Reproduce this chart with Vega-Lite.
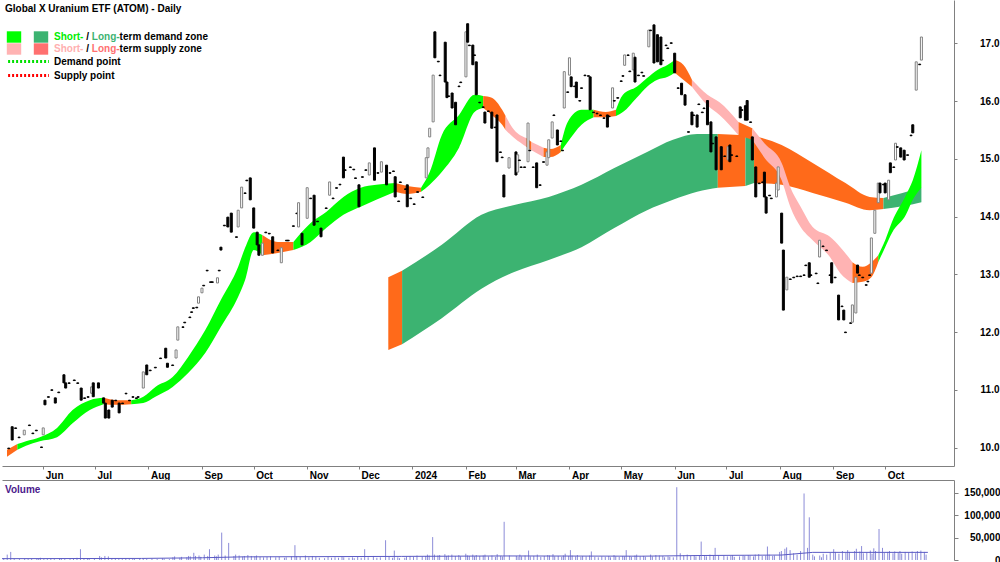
{
"$schema": "https://vega.github.io/schema/vega-lite/v6.json",
"padding": 0,
"spacing": 0,
"background": "white",
"resolve": {"scale": {"y": "independent"}, "axis": {"y": "independent"}},
"config": {
 "view": {"stroke": null},
 "font": "Liberation Sans",
 "axis": {"labelFont": "Liberation Sans", "labelFontWeight": "bold", "labelFontSize": 10, "labelColor": "#000000", "domainColor": "#808080", "tickColor": "#808080", "grid": false, "title": null},
 "legend": {"labelFont": "Liberation Sans", "labelFontWeight": "bold", "labelFontSize": 10, "labelColor": "#000000", "padding": 0, "rowPadding": 0, "labelLimit": 300, "direction": "vertical"}
},
"datasets": {
"c": [
{"d":"2023-05-12","o":9.99,"c":9.98,"v":4000},
{"d":"2023-05-14","o":10.36,"c":10.13,"v":12000},
{"d":"2023-05-16","o":10.34,"c":10.33,"v":18000},
{"d":"2023-05-18","o":10.18,"c":10.17,"v":3000},
{"d":"2023-05-21","o":10.22,"c":10.30,"v":2000},
{"d":"2023-05-24","o":10.39,"c":10.38,"v":3000},
{"d":"2023-05-26","o":10.25,"c":10.24,"v":2000},
{"d":"2023-05-28","o":10.30,"c":10.29,"v":2500},
{"d":"2023-05-31","o":10.01,"c":10.00,"v":3000},
{"d":"2023-06-01","o":10.22,"c":10.34,"v":2000},
{"d":"2023-06-02","o":10.82,"c":10.74,"v":5000},
{"d":"2023-06-04","o":10.88,"c":10.87,"v":2000},
{"d":"2023-06-06","o":11.00,"c":10.99,"v":2000},
{"d":"2023-06-08","o":10.86,"c":10.77,"v":3000},
{"d":"2023-06-10","o":10.96,"c":10.95,"v":2000},
{"d":"2023-06-13","o":11.26,"c":11.12,"v":4000},
{"d":"2023-06-14","o":11.12,"c":11.03,"v":3000},
{"d":"2023-06-16","o":11.12,"c":11.11,"v":2000},
{"d":"2023-06-19","o":11.17,"c":11.16,"v":2000},
{"d":"2023-06-21","o":11.12,"c":11.11,"v":3000},
{"d":"2023-06-23","o":11.03,"c":10.82,"v":5000},
{"d":"2023-06-25","o":10.86,"c":10.85,"v":24000},
{"d":"2023-06-27","o":10.88,"c":10.87,"v":3000},
{"d":"2023-06-29","o":10.94,"c":11.05,"v":2000},
{"d":"2023-06-30","o":11.12,"c":10.88,"v":4000},
{"d":"2023-07-03","o":11.12,"c":11.03,"v":3000},
{"d":"2023-07-06","o":10.86,"c":10.77,"v":9000},
{"d":"2023-07-07","o":10.77,"c":10.51,"v":6000},
{"d":"2023-07-09","o":10.65,"c":10.51,"v":9000},
{"d":"2023-07-11","o":10.82,"c":10.70,"v":8000},
{"d":"2023-07-13","o":10.82,"c":10.81,"v":3000},
{"d":"2023-07-15","o":10.77,"c":10.60,"v":4000},
{"d":"2023-07-17","o":10.77,"c":10.76,"v":2000},
{"d":"2023-07-19","o":10.94,"c":10.93,"v":2000},
{"d":"2023-07-21","o":10.82,"c":10.81,"v":3000},
{"d":"2023-07-23","o":10.88,"c":10.87,"v":2000},
{"d":"2023-07-25","o":10.86,"c":10.85,"v":3000},
{"d":"2023-07-26","o":10.88,"c":10.87,"v":2000},
{"d":"2023-07-29","o":11.03,"c":11.31,"v":4000},
{"d":"2023-07-31","o":11.43,"c":11.26,"v":3000},
{"d":"2023-08-02","o":11.34,"c":11.33,"v":2000},
{"d":"2023-08-05","o":11.39,"c":11.38,"v":3000},
{"d":"2023-08-08","o":11.55,"c":11.54,"v":2000},
{"d":"2023-08-11","o":11.72,"c":11.55,"v":4000},
{"d":"2023-08-12","o":11.46,"c":11.39,"v":3000},
{"d":"2023-08-15","o":11.43,"c":11.42,"v":2000},
{"d":"2023-08-17","o":11.55,"c":11.69,"v":6000},
{"d":"2023-08-18","o":11.86,"c":12.09,"v":8000},
{"d":"2023-08-21","o":12.09,"c":12.08,"v":5000},
{"d":"2023-08-22","o":12.17,"c":12.16,"v":7000},
{"d":"2023-08-25","o":12.26,"c":12.25,"v":6000},
{"d":"2023-08-26","o":12.35,"c":12.34,"v":9000},
{"d":"2023-08-27","o":12.42,"c":12.41,"v":8000},
{"d":"2023-08-29","o":12.43,"c":12.42,"v":16000},
{"d":"2023-08-30","o":12.50,"c":12.61,"v":9000},
{"d":"2023-09-01","o":12.68,"c":12.76,"v":10000},
{"d":"2023-09-02","o":12.81,"c":12.80,"v":7000},
{"d":"2023-09-04","o":13.07,"c":13.06,"v":12000},
{"d":"2023-09-06","o":12.87,"c":12.86,"v":9000},
{"d":"2023-09-07","o":12.87,"c":12.86,"v":24000},
{"d":"2023-09-10","o":12.85,"c":12.94,"v":10000},
{"d":"2023-09-11","o":13.07,"c":13.06,"v":8000},
{"d":"2023-09-12","o":13.47,"c":13.42,"v":12000},
{"d":"2023-09-14","o":13.85,"c":13.84,"v":61000},
{"d":"2023-09-16","o":13.99,"c":13.82,"v":10000},
{"d":"2023-09-18","o":14.06,"c":13.73,"v":38000},
{"d":"2023-09-21","o":13.65,"c":13.64,"v":9000},
{"d":"2023-09-22","o":13.82,"c":14.11,"v":12000},
{"d":"2023-09-24","o":14.15,"c":14.51,"v":10000},
{"d":"2023-09-26","o":14.41,"c":14.40,"v":8000},
{"d":"2023-09-27","o":14.63,"c":14.62,"v":9000},
{"d":"2023-09-29","o":14.67,"c":14.29,"v":11000},
{"d":"2023-10-01","o":14.15,"c":13.80,"v":9000},
{"d":"2023-10-03","o":13.73,"c":13.51,"v":8000},
{"d":"2023-10-04","o":13.51,"c":13.33,"v":10000},
{"d":"2023-10-06","o":13.33,"c":13.54,"v":7000},
{"d":"2023-10-08","o":13.73,"c":13.72,"v":6000},
{"d":"2023-10-10","o":13.71,"c":13.70,"v":7000},
{"d":"2023-10-12","o":13.65,"c":13.37,"v":8000},
{"d":"2023-10-15","o":13.42,"c":13.41,"v":6000},
{"d":"2023-10-17","o":13.20,"c":13.46,"v":7000},
{"d":"2023-10-20","o":13.59,"c":13.58,"v":5000},
{"d":"2023-10-21","o":13.59,"c":13.58,"v":6000},
{"d":"2023-10-24","o":13.84,"c":13.83,"v":8000},
{"d":"2023-10-26","o":14.06,"c":14.05,"v":33000},
{"d":"2023-10-27","o":13.82,"c":14.24,"v":9000},
{"d":"2023-10-29","o":13.71,"c":13.51,"v":7000},
{"d":"2023-11-01","o":13.97,"c":14.50,"v":10000},
{"d":"2023-11-03","o":14.32,"c":14.31,"v":6000},
{"d":"2023-11-05","o":14.37,"c":13.85,"v":9000},
{"d":"2023-11-07","o":13.92,"c":13.91,"v":7000},
{"d":"2023-11-09","o":13.80,"c":13.65,"v":5000},
{"d":"2023-11-12","o":14.15,"c":14.14,"v":4000},
{"d":"2023-11-14","o":14.37,"c":14.60,"v":7000},
{"d":"2023-11-16","o":14.32,"c":14.31,"v":5000},
{"d":"2023-11-18","o":14.50,"c":14.49,"v":6000},
{"d":"2023-11-20","o":14.56,"c":14.55,"v":5000},
{"d":"2023-11-22","o":15.03,"c":14.67,"v":8000},
{"d":"2023-11-23","o":14.81,"c":14.80,"v":6000},
{"d":"2023-11-26","o":14.86,"c":14.85,"v":5000},
{"d":"2023-11-28","o":14.82,"c":14.81,"v":6000},
{"d":"2023-11-29","o":14.67,"c":14.66,"v":4000},
{"d":"2023-12-01","o":14.55,"c":14.17,"v":7000},
{"d":"2023-12-03","o":14.69,"c":14.68,"v":5000},
{"d":"2023-12-05","o":14.81,"c":14.80,"v":24000},
{"d":"2023-12-07","o":14.72,"c":14.93,"v":6000},
{"d":"2023-12-10","o":15.19,"c":14.63,"v":9000},
{"d":"2023-12-12","o":14.76,"c":14.75,"v":5000},
{"d":"2023-12-14","o":14.77,"c":14.95,"v":6000},
{"d":"2023-12-17","o":14.89,"c":14.55,"v":44000},
{"d":"2023-12-19","o":14.76,"c":14.75,"v":7000},
{"d":"2023-12-21","o":14.79,"c":14.78,"v":5000},
{"d":"2023-12-22","o":14.69,"c":14.34,"v":21000},
{"d":"2023-12-24","o":14.27,"c":14.26,"v":6000},
{"d":"2023-12-25","o":14.60,"c":14.59,"v":4000},
{"d":"2023-12-28","o":14.48,"c":14.47,"v":5000},
{"d":"2023-12-29","o":14.55,"c":14.17,"v":8000},
{"d":"2023-12-31","o":14.32,"c":14.31,"v":9000},
{"d":"2024-01-02","o":14.22,"c":14.21,"v":7000},
{"d":"2024-01-04","o":14.43,"c":14.42,"v":10000},
{"d":"2024-01-07","o":14.34,"c":14.33,"v":8000},
{"d":"2024-01-09","o":14.67,"c":15.02,"v":9000},
{"d":"2024-01-10","o":15.02,"c":15.19,"v":12000},
{"d":"2024-01-11","o":15.38,"c":15.53,"v":10000},
{"d":"2024-01-13","o":15.64,"c":16.45,"v":51000},
{"d":"2024-01-14","o":17.20,"c":16.75,"v":12000},
{"d":"2024-01-16","o":16.69,"c":16.68,"v":10000},
{"d":"2024-01-17","o":16.45,"c":16.44,"v":11000},
{"d":"2024-01-20","o":17.02,"c":16.33,"v":13000},
{"d":"2024-01-21","o":16.33,"c":16.06,"v":9000},
{"d":"2024-01-22","o":16.09,"c":16.08,"v":10000},
{"d":"2024-01-24","o":16.14,"c":15.88,"v":12000},
{"d":"2024-01-26","o":15.98,"c":15.59,"v":9000},
{"d":"2024-01-28","o":16.26,"c":16.25,"v":11000},
{"d":"2024-01-29","o":16.33,"c":16.32,"v":8000},
{"d":"2024-02-01","o":16.42,"c":17.20,"v":14000},
{"d":"2024-02-02","o":17.34,"c":17.02,"v":10000},
{"d":"2024-02-03","o":16.97,"c":16.96,"v":9000},
{"d":"2024-02-05","o":16.97,"c":16.63,"v":12000},
{"d":"2024-02-06","o":16.80,"c":16.79,"v":8000},
{"d":"2024-02-07","o":16.68,"c":16.11,"v":11000},
{"d":"2024-02-09","o":15.98,"c":15.97,"v":9000},
{"d":"2024-02-11","o":15.90,"c":15.89,"v":10000},
{"d":"2024-02-12","o":15.81,"c":15.62,"v":12000},
{"d":"2024-02-14","o":15.83,"c":15.82,"v":8000},
{"d":"2024-02-16","o":15.81,"c":15.53,"v":10000},
{"d":"2024-02-18","o":15.55,"c":15.54,"v":7000},
{"d":"2024-02-19","o":15.76,"c":14.95,"v":13000},
{"d":"2024-02-21","o":15.12,"c":15.11,"v":9000},
{"d":"2024-02-22","o":15.03,"c":15.02,"v":8000},
{"d":"2024-02-23","o":14.72,"c":14.34,"v":85000},
{"d":"2024-02-26","o":14.84,"c":15.02,"v":10000},
{"d":"2024-03-01","o":15.12,"c":14.72,"v":9000},
{"d":"2024-03-02","o":14.77,"c":15.07,"v":7000},
{"d":"2024-03-03","o":14.98,"c":14.97,"v":12000},
{"d":"2024-03-04","o":14.86,"c":14.85,"v":8000},
{"d":"2024-03-06","o":14.86,"c":14.85,"v":10000},
{"d":"2024-03-08","o":14.95,"c":15.62,"v":21000},
{"d":"2024-03-09","o":15.15,"c":15.14,"v":8000},
{"d":"2024-03-11","o":14.86,"c":14.85,"v":9000},
{"d":"2024-03-13","o":14.93,"c":14.50,"v":12000},
{"d":"2024-03-15","o":14.55,"c":14.54,"v":7000},
{"d":"2024-03-17","o":14.95,"c":14.94,"v":9000},
{"d":"2024-03-19","o":14.89,"c":15.12,"v":11000},
{"d":"2024-03-20","o":15.02,"c":15.33,"v":10000},
{"d":"2024-03-22","o":15.36,"c":15.64,"v":13000},
{"d":"2024-03-23","o":15.76,"c":15.75,"v":8000},
{"d":"2024-03-25","o":15.50,"c":15.24,"v":9000},
{"d":"2024-03-27","o":15.31,"c":15.30,"v":7000},
{"d":"2024-03-28","o":15.15,"c":15.14,"v":10000},
{"d":"2024-03-29","o":15.88,"c":16.51,"v":14000},
{"d":"2024-03-31","o":16.16,"c":16.15,"v":9000},
{"d":"2024-04-01","o":16.45,"c":16.75,"v":22000},
{"d":"2024-04-02","o":16.42,"c":16.25,"v":10000},
{"d":"2024-04-04","o":16.26,"c":16.25,"v":8000},
{"d":"2024-04-05","o":16.33,"c":16.06,"v":11000},
{"d":"2024-04-07","o":16.01,"c":16.00,"v":7000},
{"d":"2024-04-08","o":16.23,"c":16.22,"v":9000},
{"d":"2024-04-10","o":16.45,"c":16.44,"v":8000},
{"d":"2024-04-12","o":16.44,"c":16.43,"v":10000},
{"d":"2024-04-13","o":16.42,"c":15.85,"v":19000},
{"d":"2024-04-15","o":15.81,"c":15.80,"v":7000},
{"d":"2024-04-17","o":15.79,"c":15.78,"v":6000},
{"d":"2024-04-19","o":15.76,"c":15.75,"v":8000},
{"d":"2024-04-21","o":15.71,"c":15.70,"v":7000},
{"d":"2024-04-23","o":15.76,"c":15.55,"v":9000},
{"d":"2024-04-24","o":15.74,"c":15.73,"v":6000},
{"d":"2024-04-26","o":15.88,"c":16.23,"v":11000},
{"d":"2024-04-27","o":16.01,"c":16.00,"v":8000},
{"d":"2024-04-29","o":16.06,"c":16.05,"v":7000},
{"d":"2024-05-01","o":16.35,"c":16.34,"v":9000},
{"d":"2024-05-02","o":16.44,"c":16.43,"v":8000},
{"d":"2024-05-03","o":16.62,"c":16.80,"v":22000},
{"d":"2024-05-05","o":16.80,"c":16.79,"v":9000},
{"d":"2024-05-06","o":16.52,"c":16.51,"v":7000},
{"d":"2024-05-08","o":16.54,"c":16.83,"v":10000},
{"d":"2024-05-09","o":16.76,"c":16.33,"v":12000},
{"d":"2024-05-11","o":16.45,"c":16.44,"v":8000},
{"d":"2024-05-13","o":16.50,"c":16.49,"v":9000},
{"d":"2024-05-14","o":16.44,"c":16.43,"v":7000},
{"d":"2024-05-17","o":16.94,"c":17.23,"v":12000},
{"d":"2024-05-18","o":17.23,"c":17.22,"v":8000},
{"d":"2024-05-20","o":17.32,"c":16.66,"v":11000},
{"d":"2024-05-22","o":17.15,"c":16.68,"v":10000},
{"d":"2024-05-24","o":17.11,"c":16.63,"v":9000},
{"d":"2024-05-25","o":16.71,"c":16.70,"v":6000},
{"d":"2024-05-27","o":16.97,"c":16.96,"v":8000},
{"d":"2024-05-28","o":16.92,"c":16.91,"v":7000},
{"d":"2024-05-30","o":17.01,"c":17.00,"v":6000},
{"d":"2024-06-01","o":16.83,"c":16.49,"v":162000},
{"d":"2024-06-03","o":16.23,"c":16.22,"v":15000},
{"d":"2024-06-05","o":16.31,"c":16.11,"v":10000},
{"d":"2024-06-07","o":16.11,"c":15.93,"v":12000},
{"d":"2024-06-09","o":15.47,"c":15.46,"v":9000},
{"d":"2024-06-11","o":15.81,"c":15.59,"v":11000},
{"d":"2024-06-12","o":15.76,"c":15.75,"v":8000},
{"d":"2024-06-14","o":15.76,"c":15.55,"v":10000},
{"d":"2024-06-15","o":15.95,"c":15.94,"v":41000},
{"d":"2024-06-17","o":15.81,"c":15.80,"v":9000},
{"d":"2024-06-18","o":15.88,"c":15.87,"v":8000},
{"d":"2024-06-20","o":16.01,"c":15.59,"v":12000},
{"d":"2024-06-22","o":15.64,"c":15.12,"v":10000},
{"d":"2024-06-23","o":15.27,"c":15.26,"v":27000},
{"d":"2024-06-25","o":15.38,"c":14.81,"v":11000},
{"d":"2024-06-28","o":15.21,"c":14.81,"v":10000},
{"d":"2024-06-30","o":15.05,"c":15.04,"v":8000},
{"d":"2024-07-02","o":14.98,"c":15.21,"v":9000},
{"d":"2024-07-03","o":15.24,"c":14.95,"v":11000},
{"d":"2024-07-04","o":15.07,"c":15.06,"v":7000},
{"d":"2024-07-07","o":15.05,"c":15.04,"v":8000},
{"d":"2024-07-09","o":15.90,"c":15.71,"v":10000},
{"d":"2024-07-10","o":15.85,"c":15.84,"v":9000},
{"d":"2024-07-12","o":15.92,"c":15.67,"v":11000},
{"d":"2024-07-13","o":16.01,"c":15.67,"v":10000},
{"d":"2024-07-15","o":15.64,"c":15.63,"v":8000},
{"d":"2024-07-16","o":15.38,"c":14.98,"v":12000},
{"d":"2024-07-18","o":14.86,"c":14.34,"v":13000},
{"d":"2024-07-20","o":14.58,"c":14.57,"v":9000},
{"d":"2024-07-22","o":14.60,"c":14.59,"v":10000},
{"d":"2024-07-23","o":14.77,"c":14.34,"v":30000},
{"d":"2024-07-24","o":14.34,"c":14.06,"v":12000},
{"d":"2024-07-26","o":14.37,"c":14.36,"v":9000},
{"d":"2024-07-27","o":14.32,"c":14.31,"v":10000},
{"d":"2024-07-30","o":14.34,"c":14.58,"v":18000},
{"d":"2024-07-31","o":14.46,"c":14.86,"v":20000},
{"d":"2024-08-02","o":14.06,"c":13.54,"v":25000},
{"d":"2024-08-03","o":13.42,"c":12.38,"v":28000},
{"d":"2024-08-05","o":12.73,"c":12.95,"v":22000},
{"d":"2024-08-07","o":12.92,"c":12.91,"v":15000},
{"d":"2024-08-09","o":12.95,"c":12.94,"v":12000},
{"d":"2024-08-11","o":12.97,"c":12.96,"v":20000},
{"d":"2024-08-13","o":12.97,"c":12.96,"v":148000},
{"d":"2024-08-15","o":12.99,"c":12.98,"v":27000},
{"d":"2024-08-16","o":13.16,"c":13.15,"v":95000},
{"d":"2024-08-18","o":13.20,"c":12.95,"v":12000},
{"d":"2024-08-19","o":12.99,"c":12.98,"v":8000},
{"d":"2024-08-22","o":13.02,"c":13.01,"v":10000},
{"d":"2024-08-23","o":12.85,"c":12.84,"v":6000},
{"d":"2024-08-24","o":13.30,"c":13.59,"v":14000},
{"d":"2024-08-26","o":13.49,"c":13.48,"v":12000},
{"d":"2024-08-28","o":13.42,"c":13.41,"v":16000},
{"d":"2024-08-30","o":12.99,"c":12.98,"v":24000},
{"d":"2024-08-31","o":13.20,"c":12.85,"v":18000},
{"d":"2024-09-02","o":12.95,"c":12.94,"v":14000},
{"d":"2024-09-04","o":12.64,"c":12.21,"v":20000},
{"d":"2024-09-06","o":12.45,"c":12.44,"v":16000},
{"d":"2024-09-07","o":12.38,"c":12.21,"v":22000},
{"d":"2024-09-08","o":12.00,"c":11.99,"v":18000},
{"d":"2024-09-11","o":12.16,"c":12.15,"v":20000},
{"d":"2024-09-12","o":12.17,"c":12.47,"v":25000},
{"d":"2024-09-14","o":12.33,"c":12.95,"v":19000},
{"d":"2024-09-15","o":13.16,"c":13.02,"v":31000},
{"d":"2024-09-16","o":12.99,"c":12.98,"v":15000},
{"d":"2024-09-18","o":12.95,"c":12.94,"v":17000},
{"d":"2024-09-20","o":12.82,"c":12.81,"v":21000},
{"d":"2024-09-21","o":12.88,"c":12.87,"v":14000},
{"d":"2024-09-22","o":12.99,"c":12.98,"v":26000},
{"d":"2024-09-23","o":13.02,"c":13.63,"v":20000},
{"d":"2024-09-25","o":13.71,"c":14.11,"v":69000},
{"d":"2024-09-27","o":14.24,"c":14.58,"v":27000},
{"d":"2024-09-28","o":14.58,"c":14.41,"v":16000},
{"d":"2024-09-30","o":14.56,"c":14.55,"v":18000},
{"d":"2024-10-01","o":14.58,"c":14.41,"v":20000},
{"d":"2024-10-03","o":14.29,"c":14.63,"v":15000},
{"d":"2024-10-04","o":14.93,"c":14.76,"v":19000},
{"d":"2024-10-06","o":14.86,"c":14.85,"v":16000},
{"d":"2024-10-07","o":14.98,"c":15.27,"v":20000},
{"d":"2024-10-08","o":15.21,"c":15.20,"v":14000},
{"d":"2024-10-10","o":15.19,"c":15.03,"v":18000},
{"d":"2024-10-12","o":15.15,"c":14.98,"v":17000},
{"d":"2024-10-14","o":15.07,"c":15.06,"v":19000},
{"d":"2024-10-16","o":15.41,"c":15.40,"v":15000},
{"d":"2024-10-17","o":15.59,"c":15.45,"v":20000},
{"d":"2024-10-19","o":16.19,"c":16.68,"v":21000},
{"d":"2024-10-21","o":16.64,"c":16.63,"v":18000},
{"d":"2024-10-22","o":16.71,"c":17.11,"v":12000}
],
"st": [
{"d":"2023-05-11","s":1,"z":"so","hi":9.96,"lo":9.84},
{"d":"2023-05-17","s":1,"z":"so","hi":10.06,"lo":9.96},
{"d":"2023-05-17","s":2,"z":"sd","hi":10.06,"lo":9.96},
{"d":"2023-05-22","s":2,"z":"sd","hi":10.11,"lo":10.03},
{"d":"2023-05-30","s":2,"z":"sd","hi":10.18,"lo":10.11},
{"d":"2023-06-09","s":2,"z":"sd","hi":10.34,"lo":10.18},
{"d":"2023-06-18","s":2,"z":"sd","hi":10.65,"lo":10.42},
{"d":"2023-06-28","s":2,"z":"sd","hi":10.82,"lo":10.65},
{"d":"2023-07-06","s":2,"z":"sd","hi":10.86,"lo":10.75},
{"d":"2023-07-06","s":3,"z":"so","hi":10.86,"lo":10.75},
{"d":"2023-07-13","s":3,"z":"so","hi":10.82,"lo":10.74},
{"d":"2023-07-22","s":3,"z":"so","hi":10.82,"lo":10.75},
{"d":"2023-07-22","s":4,"z":"sd","hi":10.82,"lo":10.75},
{"d":"2023-07-29","s":4,"z":"sd","hi":10.88,"lo":10.77},
{"d":"2023-08-05","s":4,"z":"sd","hi":11.05,"lo":10.88},
{"d":"2023-08-15","s":4,"z":"sd","hi":11.22,"lo":11.05},
{"d":"2023-08-24","s":4,"z":"sd","hi":11.57,"lo":11.29},
{"d":"2023-09-03","s":4,"z":"sd","hi":12.04,"lo":11.64},
{"d":"2023-09-12","s":4,"z":"sd","hi":12.56,"lo":12.09},
{"d":"2023-09-22","s":4,"z":"sd","hi":13.13,"lo":12.61},
{"d":"2023-09-26","s":4,"z":"sd","hi":13.46,"lo":12.90},
{"d":"2023-10-01","s":4,"z":"sd","hi":13.73,"lo":13.42},
{"d":"2023-10-06","s":4,"z":"sd","hi":13.68,"lo":13.33},
{"d":"2023-10-06","s":5,"z":"so","hi":13.68,"lo":13.33},
{"d":"2023-10-15","s":5,"z":"so","hi":13.56,"lo":13.37},
{"d":"2023-10-24","s":5,"z":"so","hi":13.56,"lo":13.42},
{"d":"2023-10-24","s":6,"z":"sd","hi":13.56,"lo":13.42},
{"d":"2023-11-03","s":6,"z":"sd","hi":13.89,"lo":13.56},
{"d":"2023-11-12","s":6,"z":"sd","hi":14.08,"lo":13.80},
{"d":"2023-11-22","s":6,"z":"sd","hi":14.34,"lo":14.03},
{"d":"2023-12-02","s":6,"z":"sd","hi":14.50,"lo":14.17},
{"d":"2023-12-11","s":6,"z":"sd","hi":14.55,"lo":14.29},
{"d":"2023-12-22","s":6,"z":"sd","hi":14.58,"lo":14.43},
{"d":"2023-12-22","s":7,"z":"so","hi":14.58,"lo":14.43},
{"d":"2023-12-29","s":7,"z":"so","hi":14.53,"lo":14.39},
{"d":"2024-01-06","s":7,"z":"so","hi":14.50,"lo":14.43},
{"d":"2024-01-06","s":8,"z":"sd","hi":14.50,"lo":14.43},
{"d":"2024-01-11","s":8,"z":"sd","hi":14.77,"lo":14.55},
{"d":"2024-01-18","s":8,"z":"sd","hi":15.41,"lo":14.77},
{"d":"2024-01-28","s":8,"z":"sd","hi":15.76,"lo":15.19},
{"d":"2024-02-06","s":8,"z":"sd","hi":16.11,"lo":15.81},
{"d":"2024-02-11","s":8,"z":"sd","hi":16.09,"lo":15.88},
{"d":"2024-02-11","s":9,"z":"so","hi":16.09,"lo":15.88},
{"d":"2024-02-16","s":9,"z":"so","hi":16.06,"lo":15.76},
{"d":"2024-02-22","s":9,"z":"so","hi":15.85,"lo":15.59},
{"d":"2024-02-24","s":9,"z":"so","hi":15.74,"lo":15.50},
{"d":"2024-02-24","s":10,"z":"ss","hi":15.74,"lo":15.50},
{"d":"2024-02-29","s":10,"z":"ss","hi":15.50,"lo":15.36},
{"d":"2024-03-07","s":10,"z":"ss","hi":15.36,"lo":15.21},
{"d":"2024-03-07","s":11,"z":"so","hi":15.36,"lo":15.21},
{"d":"2024-03-10","s":11,"z":"so","hi":15.29,"lo":15.15},
{"d":"2024-03-10","s":12,"z":"ss","hi":15.29,"lo":15.15},
{"d":"2024-03-17","s":12,"z":"ss","hi":15.19,"lo":15.03},
{"d":"2024-03-17","s":13,"z":"so","hi":15.19,"lo":15.03},
{"d":"2024-03-21","s":13,"z":"so","hi":15.17,"lo":15.03},
{"d":"2024-03-27","s":13,"z":"so","hi":15.24,"lo":15.12},
{"d":"2024-03-27","s":14,"z":"sd","hi":15.24,"lo":15.12},
{"d":"2024-03-31","s":14,"z":"sd","hi":15.64,"lo":15.29},
{"d":"2024-04-08","s":14,"z":"sd","hi":15.85,"lo":15.59},
{"d":"2024-04-15","s":14,"z":"sd","hi":15.85,"lo":15.72},
{"d":"2024-04-15","s":15,"z":"so","hi":15.85,"lo":15.72},
{"d":"2024-04-22","s":15,"z":"so","hi":15.81,"lo":15.72},
{"d":"2024-04-28","s":15,"z":"so","hi":15.85,"lo":15.74},
{"d":"2024-04-28","s":16,"z":"sd","hi":15.85,"lo":15.74},
{"d":"2024-05-02","s":16,"z":"sd","hi":16.11,"lo":15.81},
{"d":"2024-05-10","s":16,"z":"sd","hi":16.25,"lo":16.06},
{"d":"2024-05-16","s":16,"z":"sd","hi":16.40,"lo":16.25},
{"d":"2024-05-22","s":16,"z":"sd","hi":16.54,"lo":16.37},
{"d":"2024-05-28","s":16,"z":"sd","hi":16.63,"lo":16.42},
{"d":"2024-06-01","s":16,"z":"sd","hi":16.71,"lo":16.49},
{"d":"2024-06-01","s":17,"z":"so","hi":16.71,"lo":16.49},
{"d":"2024-06-06","s":17,"z":"so","hi":16.63,"lo":16.37},
{"d":"2024-06-11","s":17,"z":"so","hi":16.37,"lo":16.25},
{"d":"2024-06-11","s":18,"z":"ss","hi":16.37,"lo":16.25},
{"d":"2024-06-20","s":18,"z":"ss","hi":16.11,"lo":15.93},
{"d":"2024-06-27","s":18,"z":"ss","hi":15.98,"lo":15.76},
{"d":"2024-07-08","s":18,"z":"ss","hi":15.64,"lo":15.41},
{"d":"2024-07-08","s":19,"z":"so","hi":15.64,"lo":15.41},
{"d":"2024-07-16","s":19,"z":"so","hi":15.53,"lo":15.33},
{"d":"2024-07-16","s":20,"z":"ss","hi":15.53,"lo":15.33},
{"d":"2024-07-23","s":20,"z":"ss","hi":15.27,"lo":15.02},
{"d":"2024-08-02","s":20,"z":"ss","hi":14.93,"lo":14.63},
{"d":"2024-08-07","s":20,"z":"ss","hi":14.51,"lo":14.17},
{"d":"2024-08-13","s":20,"z":"ss","hi":14.17,"lo":13.82},
{"d":"2024-08-20","s":20,"z":"ss","hi":13.82,"lo":13.59},
{"d":"2024-08-30","s":20,"z":"ss","hi":13.65,"lo":13.30},
{"d":"2024-09-05","s":20,"z":"ss","hi":13.47,"lo":13.02},
{"d":"2024-09-12","s":20,"z":"ss","hi":13.21,"lo":12.85},
{"d":"2024-09-12","s":21,"z":"so","hi":13.21,"lo":12.85},
{"d":"2024-09-18","s":21,"z":"so","hi":13.13,"lo":12.87},
{"d":"2024-09-23","s":21,"z":"so","hi":13.21,"lo":12.95},
{"d":"2024-09-27","s":21,"z":"so","hi":13.33,"lo":13.21},
{"d":"2024-09-27","s":22,"z":"sd","hi":13.33,"lo":13.21},
{"d":"2024-10-01","s":22,"z":"sd","hi":13.59,"lo":13.47},
{"d":"2024-10-05","s":22,"z":"sd","hi":13.91,"lo":13.72},
{"d":"2024-10-13","s":22,"z":"sd","hi":14.37,"lo":14.03},
{"d":"2024-10-17","s":22,"z":"sd","hi":14.63,"lo":14.29},
{"d":"2024-10-22","s":22,"z":"sd","hi":15.15,"lo":14.50}
],
"lt": [
{"d":"2023-12-18","s":1,"z":"lo","hi":12.95,"lo":11.69},
{"d":"2023-12-26","s":1,"z":"lo","hi":13.06,"lo":11.79},
{"d":"2023-12-26","s":2,"z":"ld","hi":13.06,"lo":11.79},
{"d":"2024-01-18","s":2,"z":"ld","hi":13.51,"lo":12.24},
{"d":"2024-02-10","s":2,"z":"ld","hi":14.03,"lo":12.75},
{"d":"2024-02-29","s":2,"z":"ld","hi":14.20,"lo":13.04},
{"d":"2024-03-20","s":2,"z":"ld","hi":14.34,"lo":13.25},
{"d":"2024-04-08","s":2,"z":"ld","hi":14.55,"lo":13.47},
{"d":"2024-04-27","s":2,"z":"ld","hi":14.84,"lo":13.80},
{"d":"2024-05-16","s":2,"z":"ld","hi":15.12,"lo":14.11},
{"d":"2024-05-31","s":2,"z":"ld","hi":15.33,"lo":14.29},
{"d":"2024-06-14","s":2,"z":"ld","hi":15.43,"lo":14.43},
{"d":"2024-06-26","s":2,"z":"ld","hi":15.43,"lo":14.50},
{"d":"2024-06-26","s":3,"z":"lo","hi":15.43,"lo":14.50},
{"d":"2024-07-12","s":3,"z":"lo","hi":15.41,"lo":14.53},
{"d":"2024-07-12","s":4,"z":"ld","hi":15.41,"lo":14.53},
{"d":"2024-07-17","s":4,"z":"ld","hi":15.40,"lo":14.58},
{"d":"2024-07-17","s":5,"z":"lo","hi":15.40,"lo":14.58},
{"d":"2024-08-02","s":5,"z":"lo","hi":15.24,"lo":14.55},
{"d":"2024-08-20","s":5,"z":"lo","hi":14.93,"lo":14.41},
{"d":"2024-09-08","s":5,"z":"lo","hi":14.58,"lo":14.24},
{"d":"2024-09-22","s":5,"z":"lo","hi":14.34,"lo":14.11},
{"d":"2024-09-30","s":5,"z":"lo","hi":14.32,"lo":14.13},
{"d":"2024-09-30","s":6,"z":"ld","hi":14.32,"lo":14.13},
{"d":"2024-10-11","s":6,"z":"ld","hi":14.41,"lo":14.18},
{"d":"2024-10-22","s":6,"z":"ld","hi":14.50,"lo":14.25}
],
"m": [
{"d":"2023-05-11","v":3000},
{"d":"2023-07-30","v":3500},
{"d":"2023-09-03","v":5000},
{"d":"2023-09-26","v":7000},
{"d":"2023-12-26","v":8000},
{"d":"2024-02-22","v":9000},
{"d":"2024-05-12","v":8500},
{"d":"2024-06-15","v":10000},
{"d":"2024-07-31","v":11000},
{"d":"2024-08-18","v":17000},
{"d":"2024-10-23","v":17000}
]
},
"vconcat": [
{
 "width": 952,
 "height": 466,
 "title": {"text": "Global X Uranium ETF (ATOM) - Daily", "anchor": "start", "frame": "group", "offset": -22, "baseline": "alphabetic", "dx": 3, "fontSize": 10, "font": "Liberation Sans", "fontWeight": "bold", "color": "#000000"},
 "layer": [
  {
   "data": {"name": "lt"},
   "mark": {"type": "area", "interpolate": "monotone", "opacity": 1},
   "encoding": {
    "x": {"field": "d", "type": "temporal",
      "scale": {"type": "utc", "nice": false, "domain": [{"year": 2023, "month": 5, "date": 11, "utc": true}, {"year": 2024, "month": 11, "date": 7, "utc": true}]},
      "axis": {"orient": "bottom", "title": null, "tickSize": 3, "labelAlign": "left", "labelOffset": 2, "labelPadding": 1, "labelBaseline": "top", "minExtent": 14, "maxExtent": 14, "labelOverlap": false, "labelFlush": false,
        "values": [
          {"year": 2023, "month": 6, "date": 1, "utc": true}, {"year": 2023, "month": 7, "date": 1, "utc": true}, {"year": 2023, "month": 8, "date": 1, "utc": true},
          {"year": 2023, "month": 9, "date": 1, "utc": true}, {"year": 2023, "month": 10, "date": 1, "utc": true}, {"year": 2023, "month": 11, "date": 1, "utc": true},
          {"year": 2023, "month": 12, "date": 1, "utc": true}, {"year": 2024, "month": 1, "date": 1, "utc": true}, {"year": 2024, "month": 2, "date": 1, "utc": true},
          {"year": 2024, "month": 3, "date": 1, "utc": true}, {"year": 2024, "month": 4, "date": 1, "utc": true}, {"year": 2024, "month": 5, "date": 1, "utc": true},
          {"year": 2024, "month": 6, "date": 1, "utc": true}, {"year": 2024, "month": 7, "date": 1, "utc": true}, {"year": 2024, "month": 8, "date": 1, "utc": true},
          {"year": 2024, "month": 9, "date": 1, "utc": true}, {"year": 2024, "month": 10, "date": 1, "utc": true}],
        "labelExpr": "utcmonth(datum.value) == 0 ? utcFormat(datum.value, '%Y') : utcFormat(datum.value, '%b')"}},
    "y": {"field": "hi", "type": "quantitative", "stack": null,
      "scale": {"domain": [9.68, 17.751], "nice": false, "zero": false},
      "axis": {"orient": "right", "title": null, "values": [10, 10.5, 11, 11.5, 12, 12.5, 13, 13.5, 14, 14.5, 15, 15.5, 16, 16.5, 17, 17.5], "labelExpr": "format(datum.value, '.1f')", "tickSize": 3, "labelAlign": "right", "labelPadding": 42, "labelBaseline": "middle", "labelOverlap": false}},
    "y2": {"field": "lo"},
    "color": {"field": "z", "type": "nominal",
      "scale": {"domain": ["ld", "ls", "lo"], "range": ["#3CB371", "#FF7070", "#FF6A1A"]},
      "legend": {"orient": "none", "legendX": 33, "legendY": 31, "title": null, "values": ["ld", "ls"],
        "labelExpr": "'Short-'",
        "labelColor": {"expr": "datum.value == 'ld' ? '#00EE00' : '#FFB0B0'"},
        "symbolType": "M-1.2,-0.95L1.2,-0.95L1.2,0.95L-1.2,0.95Z", "symbolSize": 144, "symbolStrokeWidth": 0, "symbolOpacity": 1, "labelOffset": 7, "rowPadding": 0}},
    "detail": {"field": "s", "type": "nominal"}
   }
  },
  {
   "data": {"name": "st"},
   "mark": {"type": "area", "interpolate": "monotone", "opacity": 1},
   "encoding": {
    "x": {"field": "d", "type": "temporal"},
    "y": {"field": "hi", "type": "quantitative", "stack": null},
    "y2": {"field": "lo"},
    "fill": {"field": "z", "type": "nominal",
      "scale": {"domain": ["sd", "ss", "so"], "range": ["#00FF00", "#FFB3B3", "#FF6A1A"]},
      "legend": {"orient": "none", "legendX": 6, "legendY": 31, "title": null, "values": ["sd", "ss"], "labelExpr": "''",
        "symbolType": "M-1.2,-0.95L1.2,-0.95L1.2,0.95L-1.2,0.95Z", "symbolSize": 144, "symbolStrokeWidth": 0, "symbolOpacity": 1, "labelOffset": 0, "rowPadding": 0}},
    "detail": {"field": "s", "type": "nominal"}
   }
  },
  {
   "data": {"name": "c"},
   "mark": {"type": "bar", "size": 2, "strokeWidth": 1, "opacity": 1},
   "encoding": {
    "x": {"field": "d", "type": "temporal"},
    "y": {"field": "o", "type": "quantitative"},
    "y2": {"field": "c"},
    "fill": {"condition": {"test": "datum.c < datum.o", "value": "#000000"}, "value": "#ffffff"},
    "stroke": {"condition": {"test": "datum.c < datum.o", "value": "#000000"}, "value": "#808080"}
   }
  },
  {
   "data": {"values": []},
   "mark": {"type": "rule", "strokeWidth": 3},
   "encoding": {
    "y": {"field": "p", "type": "quantitative"},
    "stroke": {"field": "t", "type": "nominal",
      "scale": {"domain": ["dp", "sp"], "range": ["#00E000", "#FF0000"]},
      "legend": {"orient": "none", "legendX": 19, "legendY": 54, "title": null,
        "labelExpr": "datum.label == 'dp' ? 'Demand point' : 'Supply point'",
        "symbolType": "M-3.4,0L3.4,0", "symbolSize": 144, "symbolStrokeWidth": 3, "symbolDash": [2, 2], "labelOffset": 18, "rowPadding": 0}},
    "strokeDash": {"field": "k2", "type": "nominal",
      "scale": {"domain": ["r1", "r2"], "range": [[2, 2], [2, 2]]},
      "legend": {"orient": "none", "legendX": 70.8, "legendY": 31, "title": null, "labelExpr": "'Long-'",
        "labelColor": {"expr": "datum.value == 'r1' ? '#3CB371' : '#FF7070'"},
        "symbolType": "M-1.2,-0.95L1.2,-0.95L1.2,0.95L-1.2,0.95Z", "symbolSize": 144, "symbolOpacity": 0, "symbolStrokeWidth": 0, "symbolFillColor": "transparent", "symbolStrokeColor": "transparent", "labelOffset": 7, "rowPadding": 0}}
   }
  },
  {
   "data": {"values": []},
   "mark": {"type": "point"},
   "encoding": {
    "y": {"field": "p", "type": "quantitative"},
    "shape": {"field": "k1", "type": "nominal",
      "scale": {"domain": ["a1", "a2"]},
      "legend": {"orient": "none", "legendX": 65.2, "legendY": 31, "title": null,
        "labelExpr": "'/'",
        "symbolSize": 144, "symbolOpacity": 0, "symbolStrokeWidth": 0, "symbolFillColor": "transparent", "symbolStrokeColor": "transparent", "labelOffset": 7, "rowPadding": 0}},
    "size": {"field": "k3", "type": "ordinal",
      "scale": {"domain": ["b1", "b2"], "range": [144, 144]},
      "legend": {"orient": "none", "legendX": 98.6, "legendY": 31, "title": null,
        "labelExpr": "datum.value == 'b1' ? 'term demand zone' : 'term supply zone'",
        "symbolType": "M-1.2,-0.95L1.2,-0.95L1.2,0.95L-1.2,0.95Z", "symbolOpacity": 0, "symbolStrokeWidth": 0, "symbolFillColor": "transparent", "symbolStrokeColor": "transparent", "labelOffset": 7, "rowPadding": 0}}
   }
  }
 ]
},
{
 "width": 952,
 "height": 80,
 "title": {"text": "Volume", "anchor": "start", "frame": "group", "offset": -23, "baseline": "alphabetic", "dx": 3, "fontSize": 10, "font": "Liberation Sans", "fontWeight": "bold", "color": "#4B1A8C"},
 "layer": [
  {
   "data": {"name": "c"},
   "mark": {"type": "rule", "color": "#8C8CD8", "strokeWidth": 1, "opacity": 1},
   "encoding": {
    "x": {"field": "d", "type": "temporal",
      "scale": {"type": "utc", "nice": false, "domain": [{"year": 2023, "month": 5, "date": 11, "utc": true}, {"year": 2024, "month": 11, "date": 7, "utc": true}]},
      "axis": {"orient": "top", "title": null, "labels": false, "ticks": false, "domain": true, "minExtent": 0, "maxExtent": 0}},
    "y": {"field": "v", "type": "quantitative",
      "scale": {"domain": [0, 178000], "nice": false, "zero": true},
      "axis": {"orient": "right", "title": null, "tickCount": 4, "labelExpr": "format(datum.value, ',')", "tickSize": 4, "labelAlign": "right", "labelPadding": 42, "labelBaseline": "middle", "labelOverlap": false}},
    "y2": {"datum": 0}
   }
  },
  {
   "data": {"name": "m"},
   "mark": {"type": "line", "color": "#5A5AC4", "strokeWidth": 1, "opacity": 1},
   "encoding": {
    "x": {"field": "d", "type": "temporal"},
    "y": {"field": "v", "type": "quantitative"}
   }
  }
 ]
}
]
}
